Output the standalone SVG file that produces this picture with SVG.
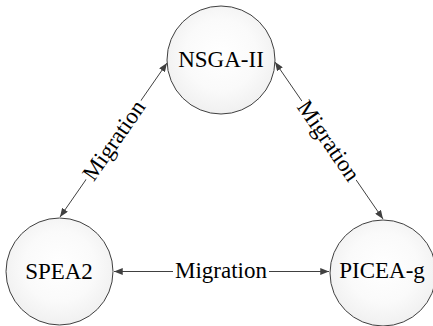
<svg xmlns="http://www.w3.org/2000/svg" width="433" height="326" viewBox="0 0 433 326">
<defs>
<radialGradient id="g" cx="50%" cy="45%" r="55%">
<stop offset="0" stop-color="#ffffff"/>
<stop offset="0.6" stop-color="#fafafa"/>
<stop offset="1" stop-color="#f0f0f0"/>
</radialGradient>
<marker id="ah" viewBox="0 0 10 8" refX="10" refY="4" markerWidth="9" markerHeight="7" markerUnits="userSpaceOnUse" orient="auto-start-reverse">
<path d="M0,0 L10,4 L0,8 Z" fill="#404040"/>
</marker>
<style>
.node circle{fill:url(#g);stroke:#404040;stroke-width:1}
text{font-family:"Liberation Serif","Times New Roman",serif;font-size:23px;fill:#000;text-anchor:middle}
.edge line{stroke:#404040;stroke-width:1;marker-start:url(#ah);marker-end:url(#ah)}
.lbl{fill:#fff}
</style>
</defs>
<rect width="433" height="326" fill="#fff"/>
<g id="connectors" class="edge">
<line x1="167" y1="63" x2="60" y2="217"/>
<line x1="275" y1="62" x2="383" y2="219"/>
<line x1="114" y1="271.5" x2="329" y2="271.5"/>
<g transform="translate(113.5,140) rotate(-55.2)">
<rect class="lbl" x="-48" y="-10" width="96" height="20"/>
<text x="0" y="8">Migration</text>
</g>
<g transform="translate(329,140.5) rotate(55.5)">
<rect class="lbl" x="-48" y="-10" width="96" height="20"/>
<text x="0" y="8">Migration</text>
</g>
<rect class="lbl" x="173" y="261" width="96" height="20"/>
<text x="221" y="278">Migration</text>
</g>
<g id="nsga" class="node">
<circle cx="221" cy="60" r="54"/>
<text x="221" y="67">NSGA-II</text>
</g>
<g id="spea2" class="node">
<circle cx="59.5" cy="271.5" r="53.5"/>
<text x="59" y="279">SPEA2</text>
</g>
<g id="picea" class="node">
<circle cx="383" cy="273" r="53"/>
<text x="382" y="278">PICEA-g</text>
</g>
</svg>
